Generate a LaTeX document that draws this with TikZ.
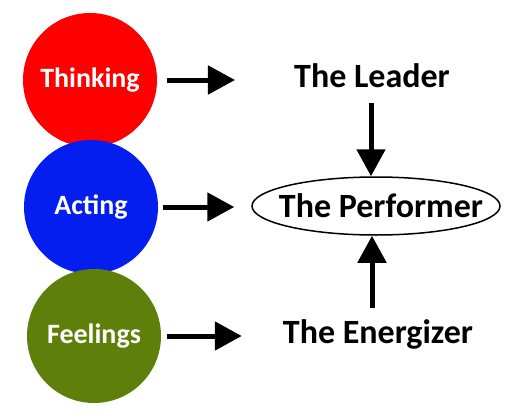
\documentclass[tikz,border=0pt]{standalone}
\usepackage{fontspec}
\setmainfont{Carlito}
\usetikzlibrary{arrows.meta,shapes.geometric}
\definecolor{tgreen}{RGB}{94,128,10}
\definecolor{tblue}{RGB}{5,30,240}
\begin{document}
\begin{tikzpicture}[x=1pt,y=-1pt,
  ball/.style={circle,minimum size=134pt,inner sep=0pt,text=white,font=\fontsize{28}{30}\selectfont\bfseries},
  role/.style={inner sep=0pt,anchor=base,font=\fontsize{34}{36}\selectfont\bfseries},
  arr/.style={line width=5pt,-{Triangle[length=27pt,width=28pt]}}]
\useasboundingbox (0,0) rectangle (525,415);

\node[ball,fill=red] (think) at (90,80) {Thinking};
\node[ball,fill=tblue] (act) at (91,207) {Acting};
\node[ball,fill=tgreen] (feel) at (94,336) {Feelings};

\node[role] (lead) at (372,87) {The Leader};
\node[role] (ener) at (378,343) {The Energizer};
\node[ellipse,draw,line width=1.5pt,minimum width=248pt,minimum height=58pt,inner sep=0pt] (perf) at (376,206) {};
\node[role] (perft) at (381,217) {The Performer};

\coordinate (c1) at (371,103);
\coordinate (c2) at (372,308);

\draw[arr,shorten <=10pt,shorten >=59pt] (think) -- (think-|lead.west);
\draw[arr,shorten <=5pt,shorten >=17pt] (act) -- (act-|perf.west);
\draw[arr,shorten <=6pt,shorten >=41pt] (feel) -- (feel-|ener.west);
\draw[arr] (c1) -- (c1|-perf.north);
\draw[arr] (c2) -- (c2|-perf.south);
\end{tikzpicture}
\end{document}
